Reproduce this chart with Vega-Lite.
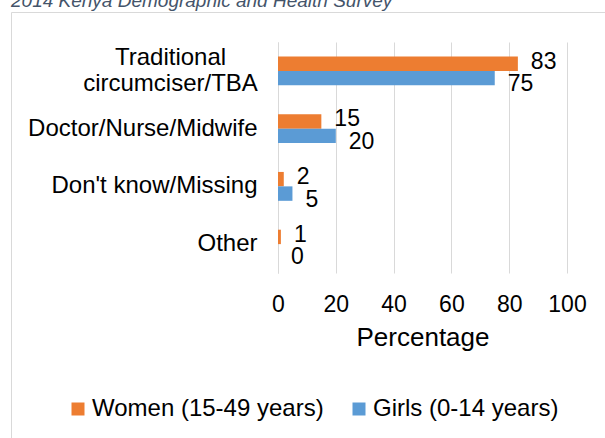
{
  "$schema": "https://vega.github.io/schema/vega-lite/v6.json",
  "autosize": {"type": "none"},
  "width": 289,
  "height": 231,
  "padding": {"left": 278, "top": 42, "right": 38, "bottom": 165},
  "background": "white",
  "config": {"font": "Liberation Sans", "view": {"stroke": null}},
  "title": {
    "text": "2014 Kenya Demographic and Health Survey",
    "anchor": "start",
    "frame": "group",
    "orient": "top",
    "offset": 0,
    "dx": -267,
    "dy": 14,
    "baseline": "alphabetic",
    "fontSize": 19,
    "fontStyle": "italic",
    "fontWeight": "normal",
    "color": "#44546A",
    "font": "Liberation Sans"
  },
  "data": {
    "values": [
      {"category": "Traditional circumciser/TBA", "series": "Women (15-49 years)", "value": 83},
      {"category": "Traditional circumciser/TBA", "series": "Girls (0-14 years)", "value": 75},
      {"category": "Doctor/Nurse/Midwife", "series": "Women (15-49 years)", "value": 15},
      {"category": "Doctor/Nurse/Midwife", "series": "Girls (0-14 years)", "value": 20},
      {"category": "Don't know/Missing", "series": "Women (15-49 years)", "value": 2},
      {"category": "Don't know/Missing", "series": "Girls (0-14 years)", "value": 5},
      {"category": "Other", "series": "Women (15-49 years)", "value": 1},
      {"category": "Other", "series": "Girls (0-14 years)", "value": 0}
    ]
  },
  "encoding": {
    "y": {
      "field": "category",
      "type": "nominal",
      "sort": ["Traditional circumciser/TBA", "Doctor/Nurse/Midwife", "Don't know/Missing", "Other"],
      "scale": {"paddingInner": 0.5, "paddingOuter": 0.25},
      "axis": {
        "title": null,
        "domain": true,
        "domainColor": "#D9D9D9",
        "ticks": false,
        "labelFontSize": 24,
        "labelColor": "#000000",
        "labelLimit": 0,
        "labelLineHeight": 26,
        "labelExpr": "datum.value == 'Traditional circumciser/TBA' ? ['Traditional', 'circumciser/TBA'] : datum.label",
        "labelAlign": {"condition": {"test": "datum.value == 'Traditional circumciser/TBA'", "value": "center"}, "value": "right"},
        "labelPadding": {"condition": {"test": "datum.value == 'Traditional circumciser/TBA'", "value": 108}, "value": 21},
        "labelOffset": {"condition": {"test": "datum.value == 'Traditional circumciser/TBA'", "value": -13}, "value": 0}
      }
    },
    "x": {
      "field": "value",
      "type": "quantitative",
      "scale": {"domain": [0, 100], "nice": false},
      "axis": {
        "values": [0, 20, 40, 60, 80, 100],
        "grid": true,
        "gridColor": "#D9D9D9",
        "domain": false,
        "ticks": false,
        "labelFlush": false,
        "labelFontSize": 23,
        "labelColor": "#000000",
        "labelPadding": 20,
        "title": "Percentage",
        "titleFontSize": 26,
        "titleFontWeight": "normal",
        "titleColor": "#000000",
        "titlePadding": 8
      }
    },
    "yOffset": {
      "field": "series",
      "type": "nominal",
      "scale": {"domain": ["Women (15-49 years)", "Girls (0-14 years)"], "paddingInner": 0, "paddingOuter": 0}
    }
  },
  "layer": [
    {
      "mark": {"type": "bar"},
      "encoding": {
        "color": {
          "field": "series",
          "type": "nominal",
          "scale": {"domain": ["Women (15-49 years)", "Girls (0-14 years)"], "range": ["#ED7D31", "#5B9BD5"]},
          "legend": {
            "orient": "none",
            "legendX": -267,
            "legendY": -30,
            "direction": "horizontal",
            "title": " ",
            "titleFontSize": 1,
            "titlePadding": 329,
            "padding": 55,
            "strokeColor": "#D9D9D9",
            "symbolType": "square",
            "symbolSize": 169,
            "symbolStrokeWidth": 0,
            "labelFontSize": 24,
            "labelColor": "#000000",
            "labelOffset": 2,
            "columnPadding": 23,
            "labelLimit": 0
          }
        }
      }
    },
    {
      "transform": [{"filter": "datum.series == 'Women (15-49 years)'"}],
      "mark": {"type": "text", "align": "left", "baseline": "middle", "dx": 13, "dy": -2, "fontSize": 23, "color": "#000000"},
      "encoding": {"text": {"field": "value", "type": "quantitative"}}
    },
    {
      "transform": [{"filter": "datum.series == 'Girls (0-14 years)'"}],
      "mark": {"type": "text", "align": "left", "baseline": "middle", "dx": 13, "dy": 6, "fontSize": 23, "color": "#000000"},
      "encoding": {"text": {"field": "value", "type": "quantitative"}}
    }
  ]
}
